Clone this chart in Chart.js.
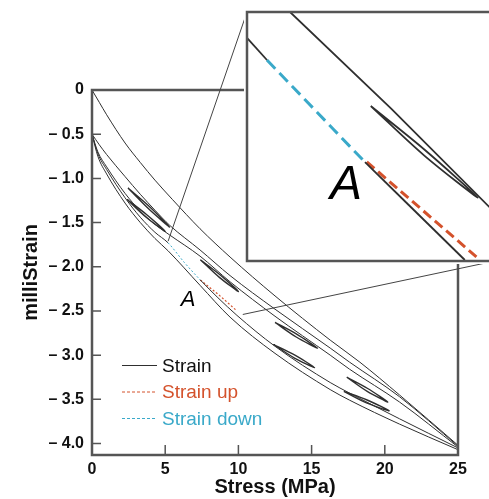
<!DOCTYPE html>
<html>
<head>
<meta charset="utf-8">
<script src="https://cdn.jsdelivr.net/npm/chart.js@4.4.0/dist/chart.umd.min.js"></script>
<style>
html, body { margin: 0; padding: 0; background: #fff; overflow: hidden; }
#wrap { position: relative; width: 489px; height: 499px; overflow: hidden; }
#main { position: absolute; left: 0; top: 0; }
#inset { position: absolute; left: 244px; top: 9px; background: #fff; }
</style>
</head>
<body>
<div id="wrap">
  <canvas id="main" width="489" height="499"></canvas>
  <canvas id="inset" width="262" height="255"></canvas>
</div>
<script>
// ---- data (stress in MPa, strain in milliStrain) ----
const xTicks = [0, 5, 10, 15, 20, 25];
const yTicks = [0, -0.5, -1.0, -1.5, -2.0, -2.5, -3.0, -3.5, -4.0];

// first loading curve, starting at zero strain
const stressT = [0, 0.5, 1, 2.26, 3.3, 4.3, 5.5, 7.38, 9.43, 12.5, 16.27, 18.3, 21, 25];
const strainT = [0, -0.14, -0.28, -0.6, -0.82, -1.02, -1.24, -1.57, -1.89, -2.33, -2.83, -3.08, -3.45, -4.02];

// curves that start from the residual strain at -0.5
const stressS = [0, 0.5, 1, 2.26, 3.3, 4.3, 5.3, 7.38, 9.43, 12.5, 16.27, 17.6, 21, 25];
const strainS = [-0.5, -0.62, -0.73, -0.98, -1.18, -1.36, -1.53, -1.81, -2.1, -2.48, -2.92, -3.08, -3.47, -4.03];

const stressM = [0, 0.4, 1, 2.26, 3.3, 4.3, 5.3, 7.38, 9.43, 12.5, 16.27, 17.6, 21, 25];
const strainM = [-0.5, -0.7, -0.87, -1.17, -1.37, -1.52, -1.64, -1.88, -2.17, -2.56, -3.0, -3.16, -3.53, -4.04];

const stressB = [0, 0.4, 1, 2.26, 3.3, 4.3, 5.2, 6.3, 7.4, 8.6, 9.9, 12.5, 16.27, 17.6, 21, 25];
const strainB = [-0.5, -0.72, -0.9, -1.22, -1.44, -1.61, -1.73, -1.95, -2.15, -2.35, -2.55, -2.9, -3.31, -3.43, -3.72, -4.05];

const stressL = [0, 0.4, 1, 2.26, 3.3, 4.3, 5.2, 7.38, 9.43, 12.5, 16.27, 17.6, 21, 25];
const strainL = [-0.5, -0.75, -0.95, -1.28, -1.5, -1.68, -1.82, -2.21, -2.57, -2.98, -3.39, -3.51, -3.78, -4.07];

// "Strain down" part of curve B and "Strain up" branch
const strainDownFrom = 5.2, strainDownTo = 7.4;
const stressUp = [7.4, 8.6, 9.9];
const strainUp = [-2.15, -2.31, -2.5];

// small unload / reload loops
const loopStress = [
  [2.46, 3.9, 5.3, 3.9, 2.46],
  [2.4, 3.7, 5.0, 3.7, 2.4],
  [7.4, 8.7, 10.0, 8.7, 7.4],
  [12.5, 13.95, 15.4, 13.95, 12.5],
  [12.4, 13.8, 15.2, 13.8, 12.4],
  [17.4, 18.8, 20.2, 18.8, 17.4],
  [17.2, 18.75, 20.3, 18.75, 17.2]
];
const loopStrain = [
  [-1.11, -1.315, -1.55, -1.35, -1.11],
  [-1.24, -1.405, -1.6, -1.44, -1.24],
  [-1.92, -2.085, -2.28, -2.12, -1.92],
  [-2.63, -2.76, -2.92, -2.795, -2.63],
  [-2.88, -2.995, -3.14, -3.03, -2.88],
  [-3.25, -3.375, -3.53, -3.41, -3.25],
  [-3.41, -3.505, -3.63, -3.54, -3.41]
];

// zoomed region (main chart) and the inset's own reading
const zoomFrom = [5.2, -1.71];
const zoomTo = [10.3, -2.54];
const insetX = [4.75, 10.34];
const insetY = [-2.52, -1.54];

const insetUpperStress = [5.72, 8.0, 10.34];
const insetUpperStrain = [-1.54, -1.92, -2.33];
const insetLoopStress = [7.54, 8.76, 9.95, 8.76, 7.54];
const insetLoopStrain = [-1.91, -2.083, -2.27, -2.107, -1.91];
const insetLowStressA = [4.75, 5.2];
const insetLowStrainA = [-1.642, -1.729];
const insetDownStress = [5.2, 7.41];
const insetDownStrain = [-1.729, -2.131];
const insetLowStressB = [7.41, 9.66];
const insetLowStrainB = [-2.131, -2.516];
const insetUpStress = [7.45, 9.93];
const insetUpStrain = [-2.13, -2.505];

const labelA = [6.56, -2.37];
const insetLabelA = [6.98, -2.225];

// ---- styling ----
const FONT = "'Liberation Sans', Arial, Helvetica, sans-serif";
const lineColor = '#2f2f2f';
const frameColor = '#555';
const red = '#d4522c';
const blue = '#3aa9c9';

const xy = (xs, ys) => xs.map((x, i) => ({ x: x, y: ys[i] }));

function curve(xs, ys, extra) {
  return Object.assign({
    data: xy(xs, ys),
    borderColor: lineColor,
    borderWidth: 1,
    pointRadius: 0,
    cubicInterpolationMode: 'monotone',
    fill: false
  }, extra || {});
}

// ---- inset chart ----
const insetPlugin = {
  id: 'insetDeco',
  afterDatasetsDraw(chart) {
    const { ctx, chartArea: a, scales } = chart;
    ctx.save();
    ctx.font = 'italic 48px ' + FONT;
    ctx.fillStyle = '#000';
    ctx.textAlign = 'center';
    ctx.textBaseline = 'middle';
    ctx.fillText('A', scales.x.getPixelForValue(insetLabelA[0]), scales.y.getPixelForValue(insetLabelA[1]));
    ctx.strokeStyle = frameColor;
    ctx.lineWidth = 2.5;
    ctx.strokeRect(a.left, a.top, a.right - a.left, a.bottom - a.top);
    ctx.restore();
  }
};

const insetChart = new Chart(document.getElementById('inset'), {
  type: 'line',
  data: {
    datasets: [
      curve(insetUpperStress, insetUpperStrain, { borderWidth: 1.8, cubicInterpolationMode: 'default', tension: 0 }),
      curve(insetLoopStress, insetLoopStrain, { borderWidth: 1.8, cubicInterpolationMode: 'default', tension: 0.3 }),
      curve(insetLowStressA, insetLowStrainA, { borderWidth: 1.8 }),
      curve(insetLowStressB, insetLowStrainB, { borderWidth: 1.8 }),
      curve(insetDownStress, insetDownStrain, { borderColor: blue, borderWidth: 3, borderDash: [12, 6] }),
      curve(insetUpStress, insetUpStrain, { borderColor: red, borderWidth: 3, borderDash: [10, 5] })
    ]
  },
  options: {
    responsive: false,
    animation: false,
    events: [],
    layout: { padding: { left: 3, top: 3, right: 11, bottom: 3 } },
    plugins: { legend: { display: false }, tooltip: { enabled: false } },
    scales: {
      x: { type: 'linear', min: insetX[0], max: insetX[1], display: false },
      y: { type: 'linear', min: insetY[0], max: insetY[1], display: false }
    }
  },
  plugins: [insetPlugin]
});

// ---- main chart ----
const insetCanvas = document.getElementById('inset');

const mainPlugin = {
  id: 'mainDeco',
  afterDatasetsDraw(chart) {
    const { ctx, chartArea: a, scales } = chart;
    const sx = scales.x, sy = scales.y;
    ctx.save();

    // frame and inward ticks
    ctx.strokeStyle = frameColor;
    ctx.lineWidth = 2.5;
    ctx.strokeRect(a.left, a.top, a.right - a.left, a.bottom - a.top);
    ctx.lineWidth = 1.5;
    ctx.beginPath();
    xTicks.slice(1, -1).forEach(v => {
      const px = sx.getPixelForValue(v);
      ctx.moveTo(px, a.bottom);
      ctx.lineTo(px, a.bottom - 10);
    });
    yTicks.slice(1).forEach(v => {
      const py = sy.getPixelForValue(v);
      ctx.moveTo(a.left, py);
      ctx.lineTo(a.left + 9, py);
    });
    ctx.stroke();

    // label A
    ctx.font = 'italic 22px ' + FONT;
    ctx.fillStyle = '#000';
    ctx.textAlign = 'center';
    ctx.textBaseline = 'middle';
    ctx.fillText('A', sx.getPixelForValue(labelA[0]), sy.getPixelForValue(labelA[1]));

    // connector lines to the inset
    const ia = insetChart.chartArea;
    const ox = insetCanvas.offsetLeft, oy = insetCanvas.offsetTop;
    ctx.strokeStyle = '#444';
    ctx.lineWidth = 1;
    ctx.beginPath();
    ctx.moveTo(sx.getPixelForValue(zoomFrom[0]), sy.getPixelForValue(zoomFrom[1]));
    ctx.lineTo(ox + ia.left, oy + ia.top);
    ctx.moveTo(sx.getPixelForValue(zoomTo[0]), sy.getPixelForValue(zoomTo[1]));
    ctx.lineTo(ox + ia.right, oy + ia.bottom);
    ctx.stroke();

    // legend
    const items = [
      { text: 'Strain', color: '#111', line: lineColor, dash: [] },
      { text: 'Strain up', color: red, line: red, dash: [3, 2] },
      { text: 'Strain down', color: blue, line: blue, dash: [3, 2] }
    ];
    ctx.font = '19px ' + FONT;
    ctx.textAlign = 'left';
    items.forEach((it, i) => {
      const y = a.top + 275.5 + i * 26.5;
      ctx.strokeStyle = it.line;
      ctx.lineWidth = 1;
      ctx.setLineDash(it.dash);
      ctx.beginPath();
      ctx.moveTo(a.left + 30, y);
      ctx.lineTo(a.left + 65, y);
      ctx.stroke();
      ctx.setLineDash([]);
      ctx.fillStyle = it.color;
      ctx.fillText(it.text, a.left + 70, y + 1);
    });
    ctx.restore();
  }
};

const mainSets = [
  curve(stressT, strainT),
  curve(stressS, strainS),
  curve(stressM, strainM),
  curve(stressB, strainB, {
    segment: {
      borderColor: c => (c.p0.parsed.x >= strainDownFrom && c.p1.parsed.x <= strainDownTo) ? blue : undefined,
      borderDash: c => (c.p0.parsed.x >= strainDownFrom && c.p1.parsed.x <= strainDownTo) ? [2, 2] : undefined
    }
  }),
  curve(stressL, strainL),
  curve(stressUp, strainUp, { borderColor: red, borderDash: [2, 2], borderWidth: 1.2 })
];
loopStress.forEach((xs, i) => {
  mainSets.push(curve(xs, loopStrain[i], { borderWidth: 1.4, cubicInterpolationMode: 'default', tension: 0.3 }));
});

new Chart(document.getElementById('main'), {
  type: 'line',
  data: { datasets: mainSets },
  options: {
    responsive: false,
    animation: false,
    events: [],
    layout: { padding: { left: 0, top: 90, right: 31, bottom: 0 } },
    plugins: { legend: { display: false }, tooltip: { enabled: false } },
    scales: {
      x: {
        type: 'linear',
        min: 0,
        max: 25,
        afterBuildTicks: s => { s.ticks = xTicks.map(v => ({ value: v })); },
        afterFit: s => { s.height = 44; },
        grid: { display: false, drawTicks: false },
        border: { display: false },
        ticks: { padding: 5, color: '#111', font: { family: FONT, size: 16, weight: 'bold' }, maxRotation: 0 },
        title: { display: true, text: 'Stress (MPa)', color: '#111', padding: { top: 0, bottom: 0 }, font: { family: FONT, size: 20, weight: 'bold' } }
      },
      y: {
        type: 'linear',
        min: -4.13,
        max: 0,
        afterBuildTicks: s => { s.ticks = yTicks.map(v => ({ value: v })); },
        afterFit: s => { s.width = 92; },
        grid: { display: false, drawTicks: false },
        border: { display: false },
        ticks: {
          padding: 8,
          color: '#111',
          font: { family: FONT, size: 16, weight: 'bold' },
          callback: v => v === 0 ? '0' : '\u2013 ' + Math.abs(v).toFixed(1)
        },
        title: { display: true, text: 'milliStrain', color: '#111', padding: { top: 19, bottom: 0 }, font: { family: FONT, size: 20, weight: 'bold' } }
      }
    }
  },
  plugins: [mainPlugin]
});
</script>
</body>
</html>
